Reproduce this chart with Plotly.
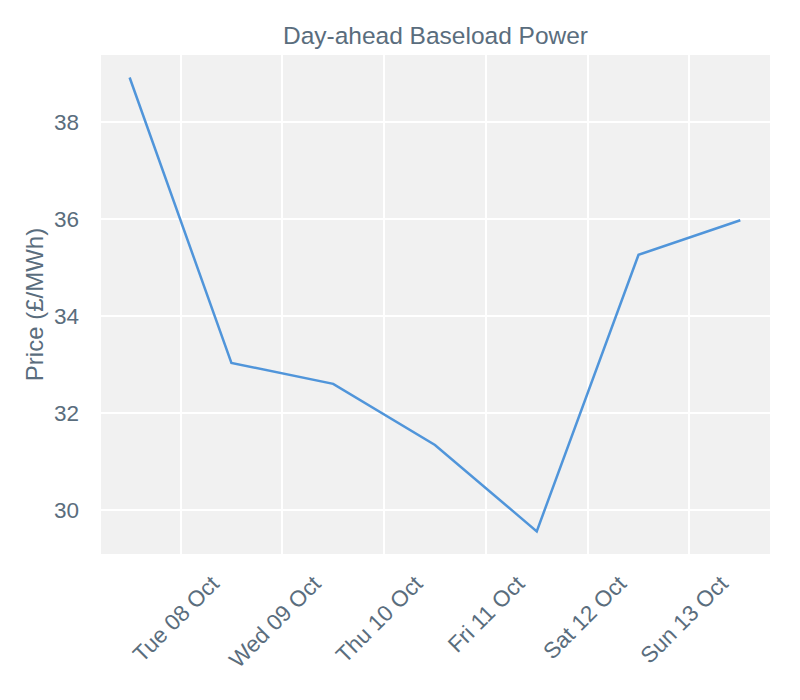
import plotly.graph_objects as go

dates = ["2024-10-07 12:00", "2024-10-08 12:00", "2024-10-09 12:00", "2024-10-10 12:00",
         "2024-10-11 12:00", "2024-10-12 12:00", "2024-10-13 12:00"]
prices = [38.91, 33.03, 32.60, 31.34, 29.56, 35.26, 35.97]
tick_vals = ["2024-10-08", "2024-10-09", "2024-10-10", "2024-10-11", "2024-10-12", "2024-10-13"]
tick_text = ["Tue 08 Oct", "Wed 09 Oct", "Thu 10 Oct", "Fri 11 Oct", "Sat 12 Oct", "Sun 13 Oct"]
y_ticks = [30, 32, 34, 36, 38]

TXT = "#5a6d7d"
FONT = "Liberation Sans, Arial, sans-serif"

fig = go.Figure()
fig.add_trace(go.Scatter(x=dates, y=prices, mode="lines",
                         line=dict(color="#5095da", width=2.5), showlegend=False))

fig.update_layout(
    width=800, height=700,
    margin=dict(l=93, r=38, t=47, b=154),
    paper_bgcolor="white", plot_bgcolor="#f1f1f1",
    font=dict(family=FONT, color=TXT, size=22),
    title=dict(text="Day-ahead Baseload Power", x=0.5, xref="paper", xanchor="center",
               y=1 - 27 / 700, yref="container", yanchor="middle",
               font=dict(size=24.5, color=TXT, family=FONT)),
    xaxis=dict(type="date", range=["2024-10-07 05:15", "2024-10-13 19:00"],
               tickvals=tick_vals, ticktext=tick_text, tickangle=-45,
               showgrid=True, gridcolor="white", gridwidth=1.5, zeroline=False,
               showline=False, ticks="", ticklabelshift=32, ticklabelstandoff=11,
               tickfont=dict(size=22.5, color=TXT)),
    yaxis=dict(range=[29.094, 39.374], tickvals=y_ticks,
               showgrid=True, gridcolor="white", gridwidth=1.5, zeroline=False,
               showline=False, ticks="", ticklabelstandoff=21,
               tickfont=dict(size=22.5, color=TXT),
               title=dict(text="Price (£/MWh)", font=dict(size=24, color=TXT), standoff=3)),
)

fig.write_html("out.html")
